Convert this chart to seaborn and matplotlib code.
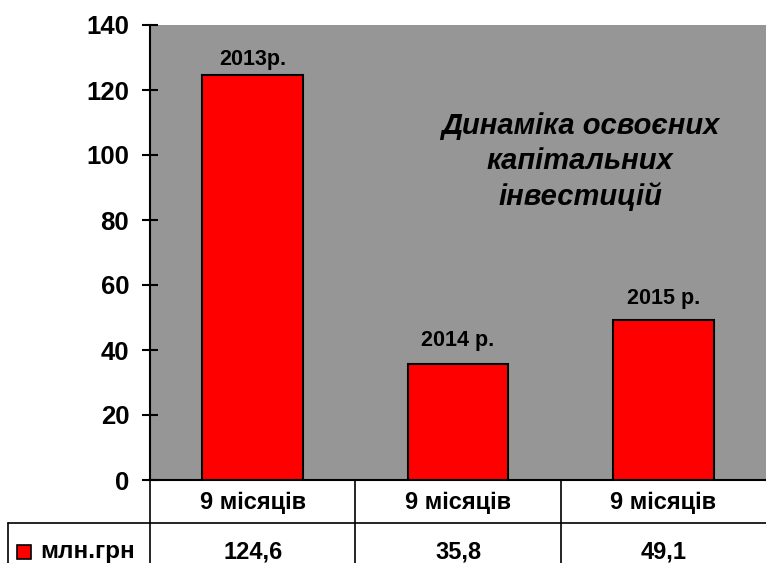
import matplotlib
matplotlib.use('Agg')
import pandas as pd
import seaborn as sns
import matplotlib.pyplot as plt

# data
periods = ['2013р.', '2014 р.', '2015 р.']
months = ['9 місяців', '9 місяців', '9 місяців']
values = [124.6, 35.8, 49.1]
value_labels = ['124,6', '35,8', '49,1']
series_name = 'млн.грн'
title = 'Динаміка освоєних\nкапітальних\nінвестицій'
yticks = [0, 20, 40, 60, 80, 100, 120, 140]

sns.set_style('white')
plt.rcParams['font.family'] = ['Liberation Sans', 'DejaVu Sans']
plt.rcParams['font.weight'] = 'bold'
plt.rcParams['text.color'] = 'black'

df = pd.DataFrame({'period': periods, 'value': values})

fig = plt.figure(figsize=(7.66, 5.63), dpi=100)
ax = fig.add_axes([150 / 766, 83 / 563, 616 / 766, 455 / 563])
ax.set_facecolor('#969696')

sns.barplot(data=df, x='period', y='value', color='#ff0000', saturation=1,
            edgecolor='black', linewidth=1.5, width=0.49, ax=ax)

ax.set_xlim(-0.5, 2.5)
ax.set_ylim(0, 140)
ax.set_yticks(yticks)
ax.set_xticks(range(len(periods)))
ax.set_xticklabels([])
ax.set_xlabel('')
ax.set_ylabel('')
ax.tick_params(axis='x', length=0)
ax.tick_params(axis='y', left=True, direction='inout', length=11, width=1.5,
               pad=9.5, labelsize=18.5, colors='black')
for lbl in ax.get_yticklabels():
    lbl.set_fontweight('bold')
for s in ['top', 'right']:
    ax.spines[s].set_visible(False)
for s in ['left', 'bottom']:
    ax.spines[s].set_color('black')
    ax.spines[s].set_linewidth(1.5)

# labels above bars
offsets = [7, 13, 11.5]
for i, (p, v) in enumerate(zip(periods, values)):
    ax.annotate(p, (i, v), xytext=(0, offsets[i]), textcoords='offset points',
                ha='center', va='baseline', fontsize=15.5, fontweight='bold')

ax.text(0.698, 0.70, title, transform=ax.transAxes, ha='center', va='center',
        fontsize=21, fontstyle='italic', fontweight='bold', linespacing=1.3)

# data table under the axis
tr = ax.get_xaxis_transform()
r1 = -43 / 455
r2 = -0.2
left = -1.19
lk = dict(transform=tr, clip_on=False, color='black', lw=1.2)
ax.plot([left, 2.5], [r1, r1], **lk)
ax.plot([left, left], [r1, r2], **lk)
for xb in [-0.5, 0.5, 1.5]:
    ax.plot([xb, xb], [0, r2], **lk)
for i in range(len(months)):
    ax.text(i, -0.05, months[i], transform=tr, ha='center', va='center',
            fontsize=17, fontweight='bold')
    ax.text(i, -0.158, value_labels[i], transform=tr, ha='center', va='center',
            fontsize=17, fontweight='bold')
ax.plot([-1.116], [-0.158], marker='s', ms=9.5, mfc='#ff0000', mec='black', mew=1.2,
        transform=tr, clip_on=False)
ax.text(-1.036, -0.158, series_name, transform=tr, ha='left', va='center',
        fontsize=17.5, fontweight='bold')

fig.savefig('out.png', dpi=100)
